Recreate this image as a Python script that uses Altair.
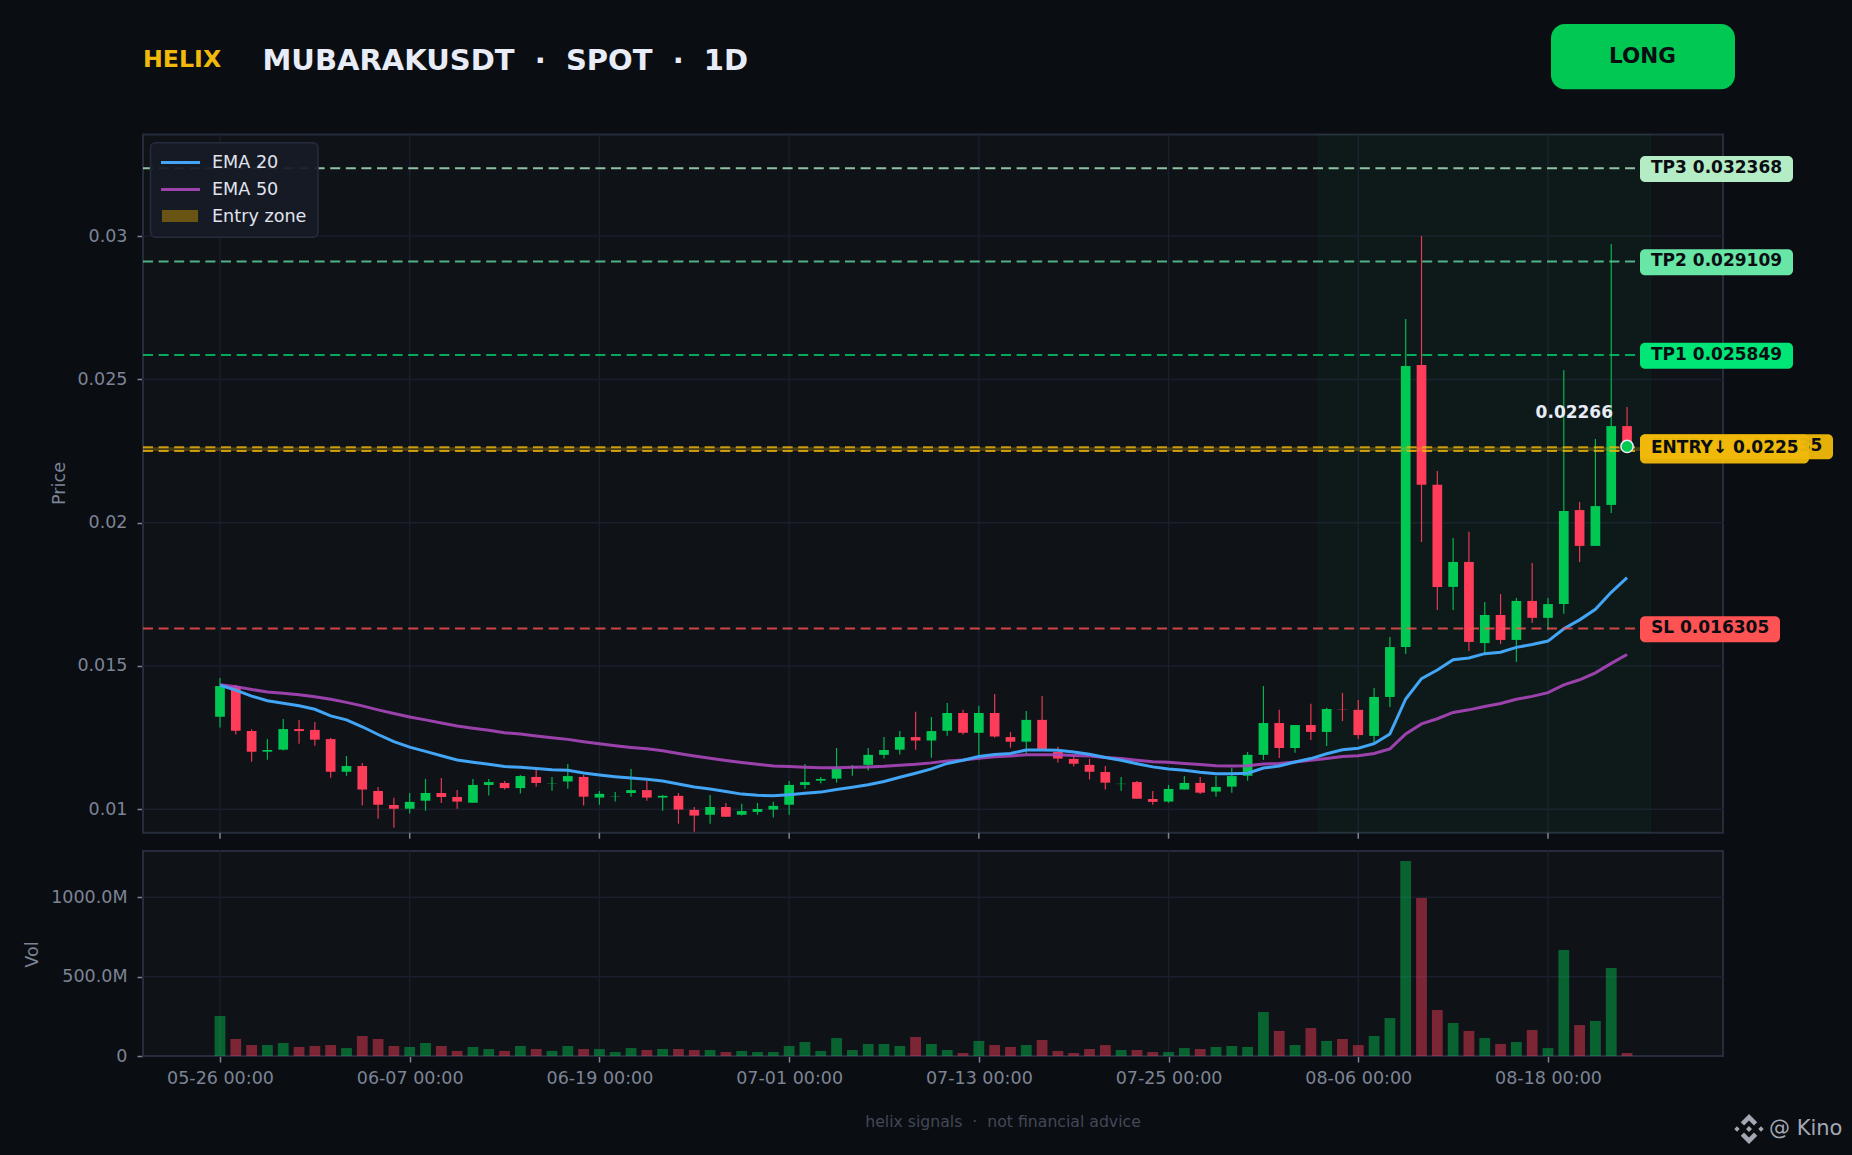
import altair as alt
import pandas as pd

BG = "#0a0d12"
PANEL = "#0f1217"
GRID = "#1a1e2d"
BORDER = "#272c3c"
TICK = "#7d8495"
GREEN = "#00c853"
RED = "#ff3d5a"
GOLD = "#f0b90b"
FONT = "DejaVu Sans"
W, H = 1852, 1155

opens = [.01323,.01430,.01273,.01201,.01208,.01280,.01277,.01245,.01131,.01151,
         .01064,.01015,.01002,.01030,.01057,.01043,.01023,.01085,.01092,.01074,
         .01113,.01090,.01097,.01113,.01041,.01044,.01057,.01067,.01041,.01047,
         .00998,.00981,.01008,.00981,.00991,.00999,.01016,.01085,.01100,.01107,
         .01145,.01155,.01190,.01208,.01252,.01240,.01274,.01336,.01267,.01336,
         .01252,.01236,.01312,.01200,.01176,.01155,.01130,.01088,.01095,.01036,
         .01027,.01069,.01092,.01062,.01079,.01117,.01190,.01301,.01214,.01294,
         .01270,.01349,.01347,.01256,.01392,.01566,.02550,.02132,.01776,.01863,
         .01580,.01678,.01591,.01727,.01668,.01716,.02044,.01919,.02062,.02337]
highs = [.01458,.01435,.01279,.01245,.01315,.01312,.01305,.01249,.01186,.01162,
         .01078,.01040,.01057,.01106,.01109,.01067,.01106,.01106,.01099,.01120,
         .01137,.01113,.01158,.01120,.01064,.01060,.01141,.01099,.01050,.01057,
         .01008,.01050,.01022,.01019,.01022,.01026,.01099,.01158,.01113,.01214,
         .01155,.01214,.01252,.01273,.01340,.01322,.01371,.01347,.01361,.01402,
         .01270,.01343,.01395,.01218,.01190,.01176,.01151,.01113,.01099,.01064,
         .01085,.01116,.01113,.01116,.01144,.01200,.01430,.01347,.01294,.01368,
         .01354,.01406,.01381,.01423,.01601,.02711,.03000,.02180,.01947,.01968,
         .01723,.01751,.01737,.01859,.01737,.02533,.02072,.02292,.02972,.02404]
lows = [.01285,.01261,.01166,.01173,.01205,.01229,.01222,.01110,.01117,.01013,
        .00967,.00936,.00985,.00995,.01022,.01002,.01023,.01048,.01069,.01055,
        .01079,.01065,.01072,.01013,.01016,.01027,.01044,.01030,.00995,.00950,
        .00922,.00950,.00974,.00978,.00981,.00971,.00981,.01072,.01090,.01093,
        .01117,.01135,.01177,.01191,.01208,.01180,.01257,.01261,.01171,.01250,
        .01215,.01194,.01205,.01163,.01149,.01104,.01069,.01065,.01037,.01016,
        .01023,.01069,.01053,.01044,.01058,.01100,.01172,.01179,.01197,.01242,
        .01221,.01308,.01245,.01231,.01357,.01542,.01933,.01695,.01695,.01552,
        .01545,.01577,.01514,.01650,.01626,.01682,.01863,.01919,.02034,.02266]
closes = [.01430,.01274,.01201,.01207,.01280,.01273,.01243,.01131,.01151,.01069,
          .01016,.01002,.01026,.01057,.01043,.01027,.01085,.01095,.01074,.01116,
          .01092,.01091,.01116,.01044,.01054,.01045,.01067,.01041,.01047,.00999,
          .00978,.01008,.00974,.00994,.01001,.01012,.01085,.01095,.01106,.01141,
          .01147,.01190,.01207,.01252,.01240,.01273,.01336,.01267,.01336,.01254,
          .01236,.01312,.01207,.01177,.01159,.01131,.01093,.01089,.01037,.01026,
          .01071,.01092,.01058,.01078,.01116,.01190,.01301,.01214,.01294,.01270,
          .01350,.01348,.01259,.01392,.01566,.02547,.02132,.01776,.01863,.01584,
          .01678,.01591,.01727,.01668,.01716,.02041,.01919,.02058,.02337,.02266]
ema20 = [.01433,.01416,.01395,.01379,.01370,.01361,.01349,.01326,.01312,.01288,
         .01261,.01236,.01217,.01202,.01187,.01172,.01164,.01157,.01149,.01147,
         .01142,.01138,.01136,.01127,.01120,.01114,.01109,.01105,.01099,.01088,
         .01078,.01071,.01062,.01053,.01049,.01047,.01051,.01056,.01060,.01069,
         .01077,.01086,.01097,.01112,.01126,.01141,.01160,.01171,.01184,.01191,
         .01195,.01207,.01207,.01206,.01200,.01192,.01181,.01171,.01159,.01148,
         .01141,.01136,.01129,.01124,.01124,.01126,.01144,.01151,.01165,.01177,
         .01194,.01208,.01213,.01229,.01263,.01385,.01456,.01486,.01522,.01528,
         .01543,.01548,.01565,.01575,.01587,.01630,.01661,.01698,.01757,.01808]
ema50 = [.01435,.01428,.01418,.01409,.01405,.01400,.01393,.01384,.01373,.01361,
         .01347,.01334,.01322,.01312,.01301,.01291,.01283,.01276,.01267,.01263,
         .01256,.01250,.01244,.01236,.01229,.01222,.01216,.01211,.01204,.01195,
         .01186,.01178,.01170,.01163,.01157,.01151,.01149,.01147,.01145,.01145,
         .01147,.01148,.01150,.01154,.01157,.01162,.01169,.01172,.01178,.01183,
         .01186,.01190,.01190,.01190,.01188,.01186,.01181,.01177,.01171,.01166,
         .01164,.01160,.01156,.01152,.01151,.01152,.01158,.01160,.01165,.01171,
         .01177,.01184,.01187,.01195,.01211,.01263,.01298,.01316,.01338,.01347,
         .01359,.01369,.01384,.01394,.01407,.01434,.01452,.01476,.01509,.01540]
volumes = [252,107,69,69,82,57,63,69,50,126,107,63,57,82,63,32,57,44,32,63,
           44,32,63,44,44,25,50,38,44,44,38,38,25,32,25,25,63,88,32,113,
           38,76,76,63,120,76,38,19,95,69,57,69,101,32,19,44,69,38,38,25,
           25,50,44,57,63,57,277,158,69,176,95,107,69,126,239,1229,995,290,208,158,
           113,76,88,164,50,668,195,221,554,19]

dates = pd.date_range("2025-05-26", periods=len(closes), freq="D").strftime("%Y-%m-%dT%H:%M:%S")
x_ticks = ["2025-05-26T00:00:00", "2025-06-07T00:00:00", "2025-06-19T00:00:00", "2025-07-01T00:00:00",
           "2025-07-13T00:00:00", "2025-07-25T00:00:00", "2025-08-06T00:00:00", "2025-08-18T00:00:00"]
price_ticks = [0.01, 0.015, 0.02, 0.025, 0.03]
vol_ticks = [0, 500, 1000]

levels = [("TP3 0.032368", 0.032368, "#b4ecc6", 1793, "#b0eec5"),
          ("TP2 0.029109", 0.029109, "#67e6a6", 1793, "#62d9a0"),
          ("TP1 0.025849", 0.025849, "#00e676", 1793, "#00d06a"),
          ("SL 0.016305", 0.016305, "#ff5252", 1780, "#ff5252")]

df = pd.DataFrame({"date": dates, "o": opens, "h": highs, "l": lows, "c": closes,
                   "ema20": ema20, "ema50": ema50, "vol": volumes})
df["color"] = [GREEN if c >= o else RED for o, c in zip(opens, closes)]

P_LEFT, P_RIGHT = 143, 1723
P_TOP, P_BOTTOM = 134.6, 832.7
V_TOP, V_BOTTOM = 851, 1056

xs = alt.Scale(domain=["2025-05-21T03:07:00", "2025-08-29T01:41:00"], range=[P_LEFT, P_RIGHT],
               nice=False, padding=0)
ys = alt.Scale(domain=[0.009184, 0.03354], range=[P_BOTTOM, P_TOP], nice=False, zero=False)
vs = alt.Scale(domain=[0, 1292], range=[V_BOTTOM, V_TOP], nice=False)
PX = (0.03354 - 0.009184) / (P_BOTTOM - P_TOP)

X = alt.X("date:T", scale=xs)
COL = alt.Color("color:N", scale=None, legend=None)
ONE = pd.DataFrame({"k": [0]})


def Yp(field):
    return alt.Y(field, scale=ys)


def box(x, x2, y, y2, fill, **kw):
    return alt.Chart(ONE).mark_rect(fill=fill, **kw).encode(
        x=alt.value(x), x2=alt.value(x2), y=alt.value(y), y2=alt.value(y2))


def label(s, x, y, size, color, weight="normal", align="left", **kw):
    return alt.Chart(pd.DataFrame({"t": [s]})).mark_text(
        font=FONT, fontSize=size, color=color, fontWeight=weight, align=align,
        baseline="middle", **kw).encode(x=alt.value(x), y=alt.value(y), text="t:N")


def price_pill(text, level, right, fill, shift=0, height=26, opacity=1.0, text_opacity=1.0):
    d = pd.DataFrame({"t": [text], "p": [level - shift * PX],
                      "top": [level - (shift - height / 2) * PX], "bot": [level - (shift + height / 2) * PX]})
    base = alt.Chart(d)
    return [
        base.mark_rect(fill=fill, cornerRadius=5, opacity=opacity).encode(
            x=alt.value(1640), x2=alt.value(right),
            y=Yp("top:Q"), y2="bot:Q"),
        base.mark_text(font=FONT, fontSize=17, fontWeight="bold", color=BG, align="left",
                       baseline="middle", opacity=text_opacity, dy=-1).encode(
            x=alt.value(1651), y=Yp("p:Q"), text="t:N"),
    ]


grid_x = alt.Chart(pd.DataFrame({"date": x_ticks}))
grid_y = alt.Chart(pd.DataFrame({"p": price_ticks}))
price_axis = alt.Axis(values=price_ticks, format=".3~f", orient="left", offset=-P_LEFT, domain=False,
                      grid=False, tickColor=TICK, tickSize=6, tickWidth=1.5, labelColor=TICK,
                      labelFont=FONT, labelFontSize=17.5, labelPadding=10, title="Price", titleFont=FONT,
                      titleFontSize=17.6, titleFontWeight="normal", titleColor=TICK, titleX=59 - P_LEFT,
                      titleY=483, titleAlign="center", titleBaseline="middle", titleAngle=-90)

band = alt.Chart(pd.DataFrame({"a": ["2025-08-03T11:00:00"], "b": ["2025-08-24T12:00:00"]}))
zone = alt.Chart(pd.DataFrame({"a": [0.0225], "b": [0.022635]}))
entry = alt.Chart(pd.DataFrame({"p": [0.0225, 0.022635]}))

price_layers = [
    box(P_LEFT, P_RIGHT, P_TOP, P_BOTTOM, PANEL, stroke=BORDER, strokeWidth=2),
    grid_y.mark_rule(color=GRID, strokeWidth=1.5).encode(
        y=alt.Y("p:Q", scale=ys, axis=price_axis), x=alt.value(P_LEFT), x2=alt.value(P_RIGHT)),
    grid_x.mark_rule(color=GRID, strokeWidth=1.5).encode(x=X, y=alt.value(P_TOP), y2=alt.value(P_BOTTOM)),
    band.mark_rect(fill=GREEN, fillOpacity=0.04, stroke=GREEN, strokeOpacity=0.06, strokeWidth=1).encode(
        x=alt.X("a:T", scale=xs), x2="b:T", y=alt.value(P_TOP), y2=alt.value(P_BOTTOM)),
    grid_x.mark_rule(color=TICK, strokeWidth=1.5).encode(x=X, y=alt.value(P_BOTTOM), y2=alt.value(P_BOTTOM + 6)),
    alt.Chart(df).mark_rule(strokeWidth=1.2, opacity=0.9).encode(
        x=X, y=Yp("h:Q"), y2="l:Q", color=COL),
    alt.Chart(df).mark_bar(size=9.7).encode(
        x=X, y=Yp("o:Q"), y2="c:Q", color=COL),
    alt.Chart(df).mark_line(color="#ab47bc", strokeWidth=3, opacity=0.9, interpolate="linear").encode(
        x=X, y=Yp("ema50:Q")),
    alt.Chart(df).mark_line(color="#42a5f5", strokeWidth=3, interpolate="linear").encode(
        x=X, y=Yp("ema20:Q")),
    zone.mark_rect(fill=GOLD, fillOpacity=0.25).encode(
        x=alt.value(P_LEFT), x2=alt.value(1640), y=Yp("a:Q"), y2="b:Q"),
    entry.mark_rule(color=GOLD, strokeWidth=2, opacity=0.8, strokeDash=[10, 5.6]).encode(
        y=Yp("p:Q"), x=alt.value(P_LEFT), x2=alt.value(1640)),
]
for text, level, fill, right, line in levels:
    price_layers.append(
        alt.Chart(pd.DataFrame({"p": [level]})).mark_rule(
            color=line, strokeWidth=2, opacity=0.8, strokeDash=[10, 5.6]).encode(
            y=Yp("p:Q"), x=alt.value(P_LEFT), x2=alt.value(1640)))
for text, level, fill, right, line in levels:
    price_layers += price_pill(text, level, right, fill, shift=0.7)
price_layers += price_pill("ENTRY↑ 0.022635", 0.022635, 1833, "#e6b00a", shift=-0.3, height=25)
price_layers += price_pill("ENTRY↓ 0.0225", 0.0225, 1809, GOLD, shift=-2, height=29, opacity=0.95)

last = df.iloc[[-1]]
price_layers += [
    alt.Chart(last).mark_point(filled=True, shape="circle", size=150, fill=GREEN, stroke="#e8ecf6",
                               strokeWidth=1.5, opacity=1).encode(
        x=X, y=Yp("c:Q")),
    alt.Chart(last).transform_calculate(t="'0.02266'").mark_text(
        font=FONT, fontSize=17, fontWeight="bold", color="#e8ecf6", align="right", baseline="middle",
        dx=-14, dy=-33).encode(x=X, y=Yp("c:Q"), text="t:N"),
    box(150.5, 318, 142.7, 237.3, "#161b26", stroke=BORDER, strokeWidth=1.5, cornerRadius=5, fillOpacity=0.94),
    box(161, 200, 161, 164, "#42a5f5"),
    box(161, 200, 188, 191, "#ab47bc", opacity=0.9),
    box(162, 198, 210, 222, "#6a5413"),
    label("EMA 20", 212, 163, 17.6, "#e0e4ee"),
    label("EMA 50", 212, 189.5, 17.6, "#e0e4ee"),
    label("Entry zone", 212, 216.5, 17.6, "#e0e4ee"),
    label("HELIX", 143, 59.5, 23.7, GOLD, "bold"),
    label("MUBARAKUSDT \u00a0·\u00a0 SPOT \u00a0·\u00a0 1D", 262.5, 61, 29, "#e8ecf6", "bold"),
    box(1551, 1735, 24, 89.3, GREEN, cornerRadius=14),
    label("LONG", 1642.5, 57, 21.5, BG, "bold", align="center"),
    label("helix signals \u00a0·\u00a0 not financial advice", 1003, 1121.5, 15.7, "#434857", align="center"),
    label("@ Kino", 1769, 1129, 21, "#a4a8b2"),
    alt.Chart(ONE).mark_point(
        filled=True, size=900, opacity=1, color="#a4a8b2",
        shape="M0,-1L0.55,-0.45L0.33,-0.23L0,-0.56L-0.33,-0.23L-0.55,-0.45Z"
              "M0,1L0.55,0.45L0.33,0.23L0,0.56L-0.33,0.23L-0.55,0.45Z"
              "M0,-0.2L0.2,0L0,0.2L-0.2,0Z"
              "M-0.8,-0.18L-0.62,0L-0.8,0.18L-0.98,0Z"
              "M0.8,-0.18L0.98,0L0.8,0.18L0.62,0Z").encode(x=alt.value(1749), y=alt.value(1129)),
]

vol_axis = alt.Axis(values=vol_ticks, orient="left", offset=-P_LEFT, domain=False, grid=False,
                    labelExpr="datum.value == 0 ? '0' : format(datum.value, '.1f') + 'M'",
                    tickColor=TICK, tickSize=6, tickWidth=1.5, labelColor=TICK, labelFont=FONT,
                    labelFontSize=17.5, labelPadding=10, title="Vol", titleFont=FONT, titleFontSize=17.6,
                    titleFontWeight="normal", titleColor=TICK, titleX=32 - P_LEFT, titleY=954,
                    titleAlign="center", titleBaseline="middle", titleAngle=-90)
x_axis = alt.Axis(values=x_ticks, format="%m-%d %H:%M", orient="bottom", offset=V_BOTTOM - H, domain=False,
                  grid=False, tickColor=TICK, tickSize=6, tickWidth=1.5, labelColor=TICK, labelFont=FONT,
                  labelFontSize=17.5, labelPadding=7, labelFlush=False, labelOverlap=False, title=None)

vgrid = alt.Chart(pd.DataFrame({"v": vol_ticks[1:]}))
vol_layers = [
    box(P_LEFT, P_RIGHT, V_TOP, V_BOTTOM, PANEL, stroke=BORDER, strokeWidth=2),
    vgrid.mark_rule(color=GRID, strokeWidth=1.5).encode(
        y=alt.Y("v:Q", scale=vs), x=alt.value(P_LEFT), x2=alt.value(P_RIGHT)),
    alt.Chart(pd.DataFrame({"date": x_ticks})).mark_rule(color=GRID, strokeWidth=1.5).encode(
        x=alt.X("date:T", scale=xs, axis=x_axis), y=alt.value(V_TOP), y2=alt.value(V_BOTTOM)),
    alt.Chart(df).mark_bar(size=10.8, opacity=0.45).encode(
        x=alt.X("date:T", scale=xs), y=alt.Y("vol:Q", scale=vs, axis=vol_axis, stack=None), color=COL),
]

chart = alt.layer(alt.layer(*price_layers), alt.layer(*vol_layers)).resolve_scale(y="independent").properties(
    width=W, height=H, padding=0, autosize=alt.AutoSizeParams(type="none"), background=BG
).configure_view(stroke=None)

chart.save("out.html", embed_options={"renderer": "svg", "actions": False,
                                      "defaultStyle": "body{margin:0;background:#0a0d12;overflow:hidden}"})
